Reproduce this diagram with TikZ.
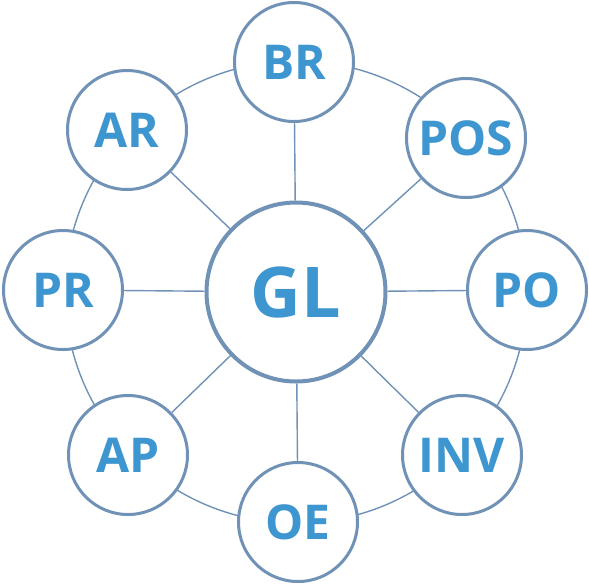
\documentclass[tikz,border=0pt]{standalone}
\usepackage{fontspec}
\setmainfont{Open Sans}
\definecolor{ring}{RGB}{112,146,182}
\definecolor{txt}{RGB}{61,150,207}
\begin{document}
\begin{tikzpicture}[x=1pt,y=-1pt,
  outer/.style={circle,draw=ring,line width=3pt,fill=white,minimum size=119pt,inner sep=0pt,text=txt,font=\fontsize{48}{48}\selectfont\bfseries},
  center/.style={circle,draw=ring,line width=4pt,fill=white,minimum size=179pt,inner sep=0pt,text=txt,font=\fontsize{70}{70}\selectfont\bfseries},
  spoke/.style={draw=ring,line width=1.4pt}]
\useasboundingbox (0,0) rectangle (589,587);
\coordinate (c) at (296,292);
\draw[ring,line width=1.4pt] (c) circle (231);
\node[center] (gl) at (c) {GL};
\node[outer] (br) at (294,62) {BR};
\node[outer] (pos) at (466,138) {POS};
\node[outer] (po) at (527,290) {PO};
\node[outer] (inv) at (462,455) {INV};
\node[outer] (oe) at (298,522) {OE};
\node[outer] (ap) at (128,455) {AP};
\node[outer] (pr) at (63,290) {PR};
\node[outer] (ar) at (127,130) {AR};
\foreach \n in {br,pos,po,inv,oe,ap,pr,ar}{\path[spoke] (gl) -- (\n);}
\end{tikzpicture}
\end{document}
